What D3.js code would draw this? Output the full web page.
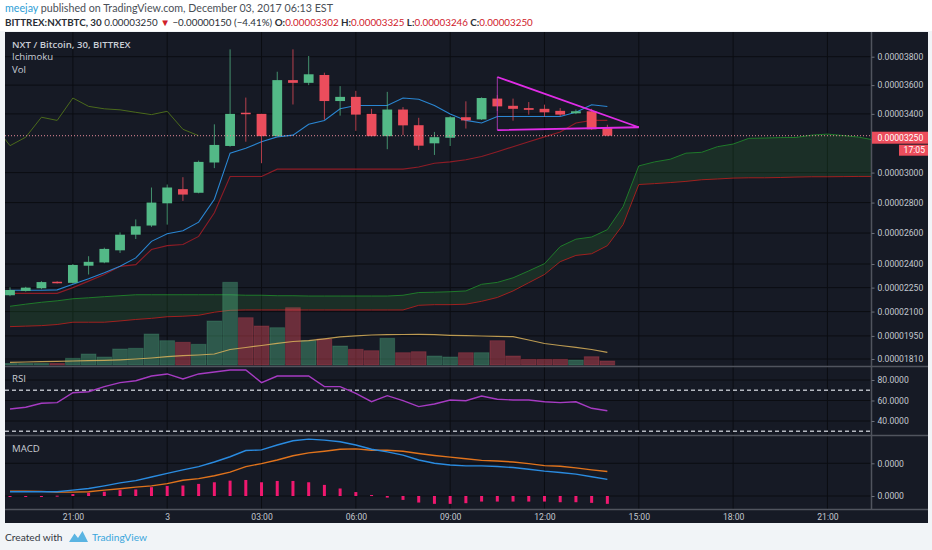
<!DOCTYPE html>
<html>
<head>
<meta charset="utf-8">
<script src="https://cdn.jsdelivr.net/npm/d3@7"></script>
<style>
  body { margin: 0; background: #f1f4f7; }
  svg { display: block; }
</style>
</head>
<body>
<svg id="chart" width="932" height="550"></svg>
<script>
'use strict';

// NXT/BTC, 30 min bars starting Dec 2 19:00, prices in satoshi (1e-8 BTC)
const opens  = [2202, 2229, 2246, 2287, 2280, 2389, 2410, 2488, 2589, 2649, 2795, 2889, 2865, 3068, 3180, 3408, 3400, 3247, 3635, 3616,
                3671, 3489, 3518, 3400, 3247, 3430, 3322, 3198, 3236, 3377, 3362, 3506, 3456, 3440, 3435, 3421, 3404, 3418, 3302];
const highs  = [2252, 2255, 2291, 2290, 2400, 2450, 2505, 2604, 2689, 2900, 2920, 2969, 3081, 3328, 3852, 3513, 3400, 3694, 3852, 3805,
                3687, 3593, 3560, 3435, 3553, 3447, 3373, 3276, 3385, 3487, 3515, 3530, 3506, 3482, 3464, 3440, 3430, 3435, 3325];
const lows   = [2196, 2225, 2240, 2276, 2275, 2333, 2405, 2471, 2561, 2640, 2655, 2811, 2861, 3030, 3175, 3209, 3063, 3245, 3465, 3600,
                3360, 3388, 3283, 3245, 3158, 3254, 3153, 3119, 3180, 3299, 3358, 3420, 3353, 3395, 3381, 3385, 3398, 3290, 3246];
const closes = [2235, 2250, 2285, 2279, 2394, 2414, 2497, 2589, 2644, 2800, 2900, 2853, 3072, 3187, 3400, 3400, 3247, 3635, 3616, 3676,
                3489, 3518, 3395, 3247, 3430, 3321, 3182, 3240, 3377, 3355, 3510, 3452, 3435, 3428, 3411, 3395, 3418, 3294, 3250];

const volumes  = [15, 15, 15, 15, 67, 110, 80, 160, 167, 310, 243, 227, 207, 440, 827, 473, 390, 373, 573, 243,
                  260, 190, 157, 143, 267, 123, 133, 90, 80, 123, 123, 243, 90, 57, 57, 57, 50, 83, 40];
const volumeMA = [27, 30, 33, 37, 40, 43, 47, 52, 60, 70, 83, 93, 100, 110, 155, 175, 195, 217, 235, 243,
                  262, 282, 292, 300, 303, 305, 307, 303, 297, 293, 290, 287, 283, 250, 215, 195, 177, 155, 127];

// Ichimoku
const tenkan = [2233, 2233, 2233, 2236, 2271, 2306, 2344, 2385, 2439, 2546, 2595, 2615, 2671, 2822, 3131, 3164, 3209, 3242, 3254, 3328,
                3355, 3435, 3458, 3458, 3458, 3510, 3501, 3458, 3400, 3355, 3337, 3382, 3382, 3382, 3382, 3382, 3411, 3463, 3451];
const kijun  = [2214, 2214, 2214, 2214, 2250, 2291, 2333, 2385, 2396, 2493, 2518, 2525, 2578, 2733, 2974, 2974, 2974, 3023, 3023, 3023,
                3023, 3023, 3023, 3023, 3023, 3023, 3038, 3063, 3072, 3086, 3108, 3141, 3175, 3209, 3242, 3276, 3337, 3355, 3355];
// leading spans, already shifted 26 bars forward (index = bar position on screen)
const spanA = [2133, 2146, 2158, 2167, 2180, 2186, 2193, 2199, 2205, 2205, 2205, 2205, 2205, 2205, 2205, 2202, 2202, 2199, 2199, 2197,
               2197, 2197, 2197, 2197, 2197, 2202, 2219, 2221, 2224, 2229, 2271, 2283, 2312, 2356, 2402, 2512, 2560, 2574, 2622, 2773,
               3045, 3072, 3090, 3131, 3137, 3175, 3193, 3232, 3234, 3237, 3238, 3254, 3261, 3251, 3240, 3220, 3207];
const spanB = [2007, 2010, 2013, 2020, 2034, 2034, 2034, 2042, 2051, 2058, 2068, 2071, 2077, 2096, 2108, 2110, 2110, 2110, 2110, 2110,
               2110, 2110, 2110, 2110, 2110, 2110, 2139, 2143, 2143, 2146, 2164, 2188, 2229, 2281, 2333, 2415, 2455, 2466, 2518, 2655,
               2920, 2926, 2933, 2941, 2952, 2957, 2963, 2965, 2965, 2967, 2970, 2972, 2972, 2973, 2974, 2974, 2974];
const laggingShift = 26;

const rsi = [51.7, 53.4, 57.3, 57.9, 67.6, 68.6, 73.5, 77.4, 79.3, 83.9, 85.9, 81.0, 85.9, 87.8, 89.8, 89.8, 77.4, 83.9, 83.9, 83.9,
             73.5, 73.5, 67.0, 58.8, 64.7, 59.8, 54.0, 56.6, 60.5, 59.8, 64.4, 61.2, 60.5, 60.5, 58.8, 57.9, 58.8, 52.4, 50.0];

// MACD in satoshi
const macd   = [13, 13, 13, 13, 18, 23, 31, 40, 47, 58, 69, 80, 90, 104, 120, 139, 141, 156, 169, 174,
                171, 166, 156, 143, 135, 125, 110, 100, 95, 92, 92, 90, 87, 82, 76, 72, 67, 59, 51];
const signal = [15, 15, 14, 12, 12, 13, 18, 22, 27, 31, 38, 48, 53, 62, 73, 90, 99, 110, 123, 132,
                137, 143, 144, 140, 140, 137, 130, 124, 119, 114, 109, 107, 104, 99, 93, 91, 86, 80, 75];
const hist   = [-2, -2, -1, 1, 6, 10, 13, 18, 20, 27, 31, 32, 37, 42, 47, 49, 42, 46, 46, 42,
                34, 23, 12, 3, -5, -12, -20, -24, -24, -22, -17, -17, -17, -17, -17, -19, -19, -21, -24];

const priceTicks = [3800, 3600, 3400, 3000, 2800, 2600, 2400, 2250, 2100, 1950, 1810];
const rsiTicks   = [80, 60, 40];
const rsiBands   = [70, 30];
const macdTicks  = [100, 0];

// drawing: descending triangle, [bar, price]
const triangle = [[31, 3657], [40, 3308], [31, 3288]];
const lastPrice = 3250;


const startTime = Date.UTC(2017, 11, 2, 19, 0);
const halfHour = 30 * 60 * 1000;
const barTime = i => new Date(startTime + i * halfHour);

const left = 5, right = 928, axisX = 871.5;
const main = {top: 32, bottom: 366},
      rsiPane = {top: 367, bottom: 435},
      macdPane = {top: 436, bottom: 509},
      bottom = 523;

const x = d3.scaleUtc()
    .domain([barTime(0), barTime(55)])
    .range([10, 10 + 55 * 15.72]);
const y = d3.scalePow().exponent(0.78)
    .domain([1810, 3800])
    .range([359, 56.7]);
const vy = d3.scaleLinear().domain([0, 827]).range([365, 282.3]);
const ry = d3.scaleLinear().domain([40, 80]).range([421, 380]);
const my = d3.scaleLinear().domain([0, 100]).range([496, 463.3]);

const up = '#53b987', down = '#eb4d5c';
const gridColor = '#0b0d12', axisText = '#c3c7cf';
const fmtPrice = v => (v / 1e8).toFixed(8);

const svg = d3.select('#chart');

// page + chart background
svg.append('rect').attr('width', 932).attr('height', 550).attr('fill', '#f1f4f7');
svg.append('rect').attr('width', 932).attr('height', 31).attr('fill', '#ffffff');
svg.append('rect')
    .attr('x', left).attr('y', main.top)
    .attr('width', right - left).attr('height', bottom - main.top)
    .attr('fill', '#161a25');

const defs = svg.append('defs');
[['clipMain', main], ['clipRsi', rsiPane], ['clipMacd', macdPane]].forEach(([id, p]) => {
    defs.append('clipPath').attr('id', id)
        .append('rect')
        .attr('x', left).attr('y', p.top)
        .attr('width', axisX - left).attr('height', p.bottom - p.top);
});

// time ticks
const timeTicks = d3.utcHour.every(3)
    .range(barTime(-1), barTime(56))
    .filter(t => x(t) > left && x(t) < axisX);
const fmtTime = t => t.getUTCHours() === 0 ? String(t.getUTCDate()) : d3.utcFormat('%H:%M')(t);

// grid
const grid = svg.append('g').attr('stroke', gridColor).attr('stroke-width', 1);
grid.selectAll('.vg').data(timeTicks).join('line')
    .attr('x1', d => x(d)).attr('x2', d => x(d))
    .attr('y1', main.top).attr('y2', macdPane.bottom);
grid.selectAll('.hg').data(priceTicks).join('line')
    .attr('x1', left).attr('x2', axisX)
    .attr('y1', d => y(d)).attr('y2', d => y(d));
grid.selectAll('.rg').data(rsiTicks).join('line')
    .attr('x1', left).attr('x2', axisX)
    .attr('y1', d => ry(d)).attr('y2', d => ry(d));
grid.selectAll('.mg').data(macdTicks).join('line')
    .attr('x1', left).attr('x2', axisX)
    .attr('y1', d => my(d)).attr('y2', d => my(d));


// ---- main pane ----
const pane = svg.append('g').attr('clip-path', 'url(#clipMain)');

const cloud = d3.area()
    .x((d, i) => x(barTime(i)))
    .y0((d, i) => y(spanB[i]))
    .y1(d => y(d));
pane.append('path').datum(spanA)
    .attr('d', cloud)
    .attr('fill', '#2e7d32').attr('fill-opacity', 0.22);

const lineOf = (arr, offset = 0) => d3.line()
    .x((d, i) => x(barTime(i + offset)))
    .y(d => y(d))(arr);

pane.append('path').attr('d', lineOf(spanA))
    .attr('fill', 'none').attr('stroke', '#1f7a2a').attr('stroke-width', 1);
pane.append('path').attr('d', lineOf(spanB))
    .attr('fill', 'none').attr('stroke', '#a0201f').attr('stroke-width', 1);

// volume
const bw = 15.72;
pane.selectAll('.vol').data(volumes).join('rect')
    .attr('x', (d, i) => x(barTime(i)) - bw / 2 + 0.5)
    .attr('y', d => vy(d))
    .attr('width', bw - 1)
    .attr('height', d => vy(0) - vy(d))
    .attr('fill', (d, i) => closes[i] >= opens[i] ? up : down)
    .attr('fill-opacity', 0.4)
    .attr('stroke', (d, i) => closes[i] >= opens[i] ? up : down)
    .attr('stroke-opacity', 0.25);

pane.append('path')
    .attr('d', d3.line().x((d, i) => x(barTime(i))).y(d => vy(d))(volumeMA))
    .attr('fill', 'none').attr('stroke', '#d9b25a').attr('stroke-opacity', 0.85).attr('stroke-width', 1.2);

// lagging span: closes drawn 26 bars back (one bar before the window leads in from the edge)
pane.append('path').attr('d', lineOf(closes.slice(laggingShift - 1), -1))
    .attr('fill', 'none').attr('stroke', '#4b6a1c').attr('stroke-width', 1);
pane.append('path').attr('d', lineOf(kijun))
    .attr('fill', 'none').attr('stroke', '#8e1c26').attr('stroke-width', 1.1);
pane.append('path').attr('d', lineOf(tenkan))
    .attr('fill', 'none').attr('stroke', '#2a86d2').attr('stroke-width', 1.1);

// candles
const cw = 9.8;
const candle = pane.selectAll('.candle').data(opens).join('g');
candle.append('line')
    .attr('x1', (d, i) => x(barTime(i))).attr('x2', (d, i) => x(barTime(i)))
    .attr('y1', (d, i) => y(highs[i])).attr('y2', (d, i) => y(lows[i]))
    .attr('stroke', (d, i) => closes[i] >= d ? up : down)
    .attr('stroke-opacity', 0.75);
candle.append('rect')
    .attr('x', (d, i) => x(barTime(i)) - cw / 2)
    .attr('width', cw)
    .attr('y', (d, i) => y(Math.max(d, closes[i])))
    .attr('height', (d, i) => Math.max(1.5, Math.abs(y(d) - y(closes[i]))))
    .attr('fill', (d, i) => closes[i] >= d ? up : down);

// last price line
pane.append('line')
    .attr('x1', left).attr('x2', axisX)
    .attr('y1', y(lastPrice)).attr('y2', y(lastPrice))
    .attr('stroke', '#e48a9a').attr('stroke-dasharray', '1,2').attr('stroke-width', 1);

// triangle drawing
const tri = triangle.map(([b, p]) => [x(barTime(b)), y(p)]);
pane.append('line')
    .attr('x1', tri[0][0]).attr('y1', tri[0][1]).attr('x2', tri[2][0]).attr('y2', tri[2][1])
    .attr('stroke', '#c13ec8').attr('stroke-width', 0.8);
pane.append('path')
    .attr('d', d3.line()([tri[0], tri[1], tri[2]]))
    .attr('fill', 'none').attr('stroke', '#e02ce6').attr('stroke-width', 1.8);


// ---- RSI pane ----
const rp = svg.append('g').attr('clip-path', 'url(#clipRsi)');
rp.selectAll('.band').data(rsiBands).join('line')
    .attr('x1', left).attr('x2', axisX)
    .attr('y1', d => ry(d)).attr('y2', d => ry(d))
    .attr('stroke', '#b4b8c0').attr('stroke-width', 1.4).attr('stroke-dasharray', '4,3');
rp.append('path')
    .attr('d', d3.line().x((d, i) => x(barTime(i))).y(d => ry(d))(rsi))
    .attr('fill', 'none').attr('stroke', '#a63bc2').attr('stroke-width', 1.4);


// ---- MACD pane ----
const mp = svg.append('g').attr('clip-path', 'url(#clipMacd)');
mp.selectAll('.hist').data(hist).join('rect')
    .attr('x', (d, i) => x(barTime(i)) - 1.5)
    .attr('width', 3)
    .attr('y', d => Math.min(my(d), my(0)))
    .attr('height', d => Math.max(1, Math.abs(my(d) - my(0))))
    .attr('fill', '#f0186f');
mp.append('path')
    .attr('d', d3.line().x((d, i) => x(barTime(i))).y(d => my(d))(signal))
    .attr('fill', 'none').attr('stroke', '#e0731c').attr('stroke-width', 1.4);
mp.append('path')
    .attr('d', d3.line().x((d, i) => x(barTime(i))).y(d => my(d))(macd))
    .attr('fill', 'none').attr('stroke', '#2a8be0').attr('stroke-width', 1.4);


// ---- separators and axes ----
const sep = svg.append('g').attr('stroke', '#50545e').attr('stroke-width', 1.5);
sep.append('line').attr('x1', left).attr('x2', right).attr('y1', main.bottom + 0.5).attr('y2', main.bottom + 0.5);
sep.append('line').attr('x1', left).attr('x2', right).attr('y1', rsiPane.bottom + 0.5).attr('y2', rsiPane.bottom + 0.5);
sep.append('line').attr('x1', left).attr('x2', right).attr('y1', macdPane.bottom + 0.5).attr('y2', macdPane.bottom + 0.5);
sep.append('line').attr('x1', axisX).attr('x2', axisX).attr('y1', main.top).attr('y2', macdPane.bottom);

const styleAxis = g => {
    g.select('.domain').remove();
    g.selectAll('line').attr('stroke', '#6d717b');
    g.selectAll('text')
        .attr('fill', axisText)
        .attr('font-family', 'Roboto, sans-serif')
        .attr('font-size', '8.6px');
};

svg.append('g')
    .attr('transform', `translate(${axisX},0)`)
    .call(d3.axisRight(y).tickValues(priceTicks).tickFormat(fmtPrice).tickSize(3).tickPadding(3))
    .call(styleAxis);
svg.append('g')
    .attr('transform', `translate(${axisX},0)`)
    .call(d3.axisRight(ry).tickValues(rsiTicks).tickFormat(d3.format('.4f')).tickSize(3).tickPadding(3))
    .call(styleAxis);
svg.append('g')
    .attr('transform', `translate(${axisX},0)`)
    .call(d3.axisRight(my).tickValues(macdTicks).tickFormat(v => (v / 1e8).toFixed(4)).tickSize(3).tickPadding(3))
    .call(styleAxis);
svg.append('g')
    .attr('transform', `translate(0,${macdPane.bottom + 1})`)
    .call(d3.axisBottom(x).tickValues(timeTicks).tickFormat(fmtTime).tickSize(0).tickPadding(4))
    .call(styleAxis);

// last price tag
const tagY = y(lastPrice) + 2;
svg.append('rect').attr('x', axisX + 0.5).attr('y', tagY - 6).attr('width', right - axisX - 0.5).attr('height', 12)
    .attr('fill', down);
svg.append('text').attr('x', axisX + 6).attr('y', tagY + 3)
    .attr('fill', '#ffffff').attr('font-family', 'Roboto, sans-serif').attr('font-size', '8.6px')
    .text(fmtPrice(lastPrice));
svg.append('rect').attr('x', 899).attr('y', tagY + 7).attr('width', right - 899).attr('height', 11)
    .attr('fill', down);
svg.append('text').attr('x', right - 3).attr('y', tagY + 15.5).attr('text-anchor', 'end')
    .attr('fill', '#ffffff').attr('font-family', 'Roboto, sans-serif').attr('font-size', '8.6px')
    .text('17:05');

// pane titles
const label = (txt, ly, weight) => svg.append('text')
    .attr('x', 12).attr('y', ly)
    .attr('fill', '#c9cdd5').attr('font-family', '"Open Sans", sans-serif')
    .attr('font-size', '9.6px').attr('font-weight', weight || 'normal')
    .text(txt);
label('NXT / Bitcoin, 30, BITTREX', 47.5, 600);
label('Ichimoku', 60);
label('Vol', 72.5);
label('RSI', 381.5);
label('MACD', 451.5);


// ---- header ----
const head1 = svg.append('text').attr('x', 5).attr('y', 11.5)
    .attr('font-family', 'Lato, sans-serif').attr('font-size', '10.7px').attr('fill', '#4a4f57');
head1.append('tspan').attr('fill', '#2e9ed6').text('meejay');
head1.append('tspan').text(' published on TradingView.com, December 03, 2017 06:13 EST');

const head2 = svg.append('text').attr('x', 5).attr('y', 26)
    .attr('font-family', 'Lato, sans-serif').attr('font-size', '9.8px').attr('fill', '#2a2e35');
head2.append('tspan').attr('font-weight', 700).text('BITTREX:NXTBTC, 30');
head2.append('tspan').text(' ' + fmtPrice(lastPrice) + ' ');
head2.append('tspan').attr('fill', '#d0202a').text('▼');
head2.append('tspan').text(' \u22120.00000150 (\u22124.41%) ');
[['O:', opens[38]], ['H:', highs[38]], ['L:', lows[38]], ['C:', closes[38]]].forEach(([k, v], j) => {
    head2.append('tspan').attr('font-weight', 700).text((j ? ' ' : '') + k);
    head2.append('tspan').attr('fill', '#d0202a').text(fmtPrice(v));
});

// ---- footer ----
svg.append('text').attr('x', 5).attr('y', 541)
    .attr('font-family', 'Lato, sans-serif').attr('font-size', '10.2px').attr('fill', '#33373e')
    .text('Created with');
svg.append('path')
    .attr('d', 'M69,542 L74.5,533.5 L78,538 L82.5,531 L88,542 Z')
    .attr('fill', '#5ab4e2');
svg.append('text').attr('x', 92).attr('y', 541)
    .attr('font-family', 'Lato, sans-serif').attr('font-size', '10.2px').attr('fill', '#3aa6dc')
    .text('TradingView');
</script>
</body>
</html>
